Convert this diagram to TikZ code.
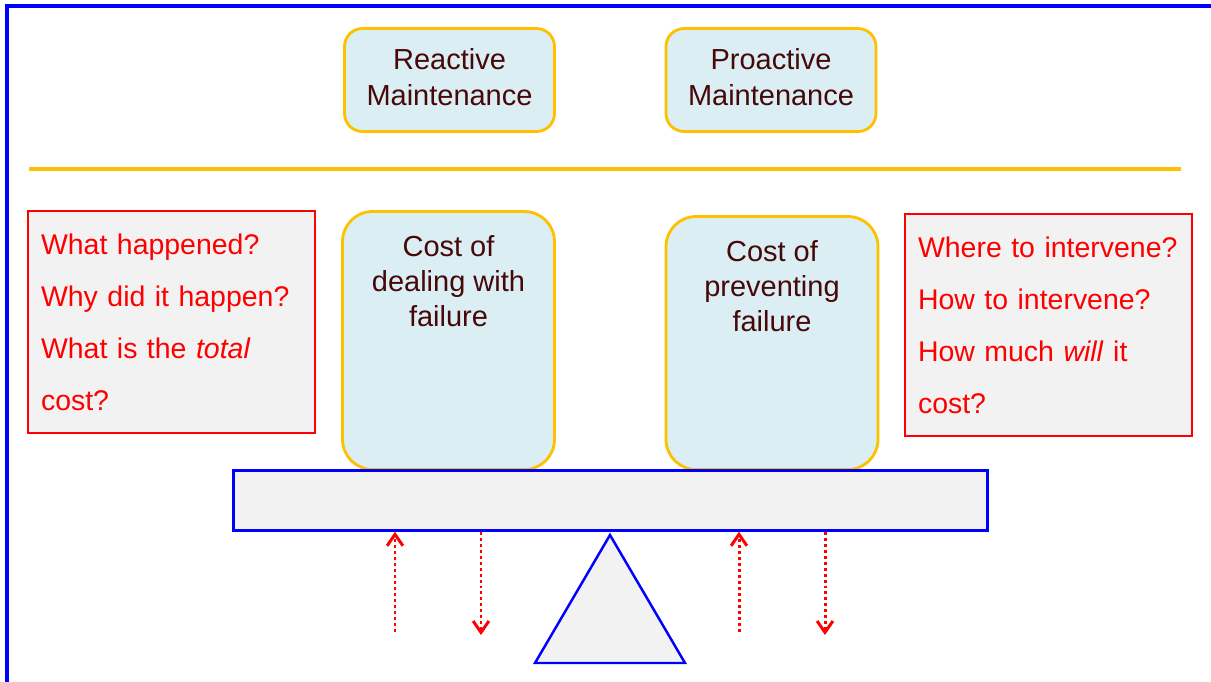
\documentclass[tikz,border=0pt]{standalone}
\usepackage{fontspec}
\setmainfont{Liberation Sans}
\usetikzlibrary{positioning,arrows.meta}

\definecolor{gold}{HTML}{FFC000}
\definecolor{paleblue}{HTML}{DAEEF3}
\definecolor{panelgrey}{HTML}{F2F2F2}
\definecolor{darktext}{RGB}{70,8,8}

\begin{document}
\begin{tikzpicture}[x=0.02cm,y=-0.02cm,
    topbox/.style={draw=gold, line width=1.6pt, fill=paleblue,
      rounded corners=0.36cm, minimum width=4.2cm, minimum height=2.06cm},
    costbox/.style={draw=gold, line width=1.6pt, fill=paleblue,
      rounded corners=0.6cm, minimum width=4.24cm},
    blacktext/.style={text=darktext, align=center, inner sep=0pt,
      font=\fontsize{16.5}{20}\selectfont},
    question/.style={draw=red, line width=1.2pt, fill=panelgrey, text=red,
      align=left, text width=5.22cm, inner xsep=0.26cm,
      minimum width=5.74cm, minimum height=4.44cm,
      font=\fontsize{16.2}{29.6}\selectfont},
    force/.style={red, line width=1.7pt, dash pattern=on 1.7pt off 1.7pt,
      -{Straight Barb[length=6.5pt,width=9pt,line width=1.7pt]}}]
  \useasboundingbox (0,0) rectangle (1211,681);
  \clip (0,0) rectangle (1211,681);
  % outer frame
  \draw[blue, line width=1.8pt] (7,6) rectangle (1230,700);

  % the two kinds of maintenance
  \node[topbox, blacktext, inner sep=0pt, text depth=0.12cm] (reactive) at (449.5,80) {Reactive\\Maintenance};
  \node[topbox, blacktext, inner sep=0pt, text depth=0.12cm] (proactive) at (771,80) {Proactive\\Maintenance};
  \draw[gold, line width=2pt] (29,169) -- (1181,169);

  % the costs sitting on the beam
  \node[costbox, minimum height=5.16cm] (dealing) at (448.5,340.5) {};
  \node[blacktext, below=0.5cm of dealing.north] (dealingtxt) {Cost of\\dealing with\\failure};
  \node[costbox, minimum height=5.06cm] (preventing) at (772,343) {};
  \node[blacktext, below=0.5cm of preventing.north] (preventingtxt) {Cost of\\preventing\\failure};

  % questions on either side
  \node[question] (left) at (171.5,322) {What happened?\\Why did it happen?\\What is the \textit{total}\\cost?};
  \node[question] (right) at (1048.5,325) {Where to intervene?\\How to intervene?\\How much \textit{will} it\\cost?};

  % beam and pivot
  \node[draw=blue, line width=1.4pt, fill=panelgrey, minimum width=15.08cm,
    minimum height=1.2cm, inner sep=0pt] (beam) at (610.5,500.5) {};
  \draw[blue, line width=1.4pt, fill=panelgrey] (610,535) -- (685,663) -- (535,663) -- cycle;

  % forces on the beam
  \coordinate (up1) at (395,632);
  \coordinate (down1) at (481,635);
  \coordinate (up2) at (739,632);
  \coordinate (down2) at (825,635);
  \draw[force] (up1) -- (up1 |- beam.south);
  \draw[force] (beam.south -| down1) -- (down1);
  \draw[force] (up2) -- (up2 |- beam.south);
  \draw[force] (beam.south -| down2) -- (down2);
\end{tikzpicture}
\end{document}
